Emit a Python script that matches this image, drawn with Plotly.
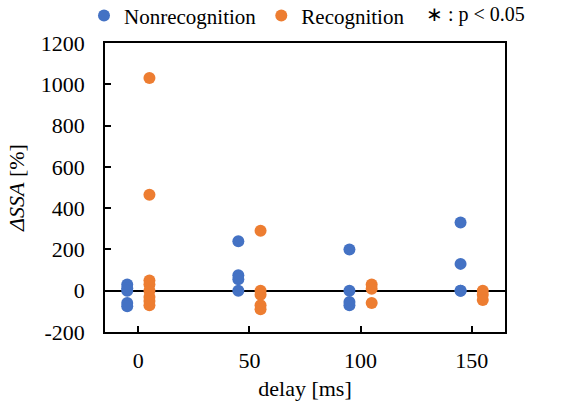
import plotly.graph_objects as go

delays = [0, 50, 100, 150]
offset = 5

y_tick_vals = [-200, 0, 200, 400, 600, 800, 1000, 1200]
y_tick_text = ["-200", "0", "200", "400", "600", "800", "1000", "1200"]

nonrec_vals = {
    0: [30, 12, 0, -60, -75],
    50: [240, 75, 55, 0],
    100: [200, 0, -55, -70],
    150: [330, 130, 0, 0],
}
rec_vals = {
    0: [1030, 465, 50, 30, 0, -30, -50, -70],
    50: [290, 0, -20, -70, -90],
    100: [30, 10, -60],
    150: [0, -20, -45],
}

blue = "#4472C4"
orange = "#ED7D31"
font_family = "Times New Roman, Liberation Serif, serif"
axis_font = dict(family=font_family, size=22, color="black")

def flatten(d, shift):
    xs, ys = [], []
    for k in delays:
        for v in d[k]:
            xs.append(k + shift)
            ys.append(v)
    return xs, ys

nx, ny = flatten(nonrec_vals, -offset)
rx, ry = flatten(rec_vals, offset)

fig = go.Figure()
fig.add_trace(go.Scatter(x=nx, y=ny, mode="markers", name="Nonrecognition",
                         marker=dict(color=blue, size=12)))
fig.add_trace(go.Scatter(x=rx, y=ry, mode="markers", name="Recognition",
                         marker=dict(color=orange, size=12)))

fig.add_annotation(text="∗ : p < 0.05", xref="paper", yref="paper",
                   x=0.797, y=1.1, xanchor="left", yanchor="middle",
                   showarrow=False, font=dict(size=20, color="black", family=font_family))

fig.update_layout(
    template="none",
    width=569, height=407,
    margin=dict(l=105, r=64, t=43, b=75, autoexpand=False),
    paper_bgcolor="white", plot_bgcolor="white",
    font=dict(family=font_family, size=22, color="black"),
    showlegend=True,
    legend=dict(orientation="h", x=-0.0525, y=1.165, xanchor="left", yanchor="top",
                font=dict(size=21, family=font_family), itemwidth=30,
                bgcolor="rgba(0,0,0,0)"),
    xaxis=dict(range=[-15, 165], tickvals=delays, ticks="inside", ticklen=6,
               tickwidth=1.5, tickcolor="black", tickfont=axis_font,
               showline=True, linecolor="black", linewidth=1.5, mirror=True,
               showgrid=False, zeroline=False,
               title=dict(text="delay [ms]", standoff=8, font=axis_font),
               ticklabelstandoff=8),
    yaxis=dict(range=[-200, 1200], tickvals=y_tick_vals, ticktext=y_tick_text,
               ticks="inside", ticklen=6, tickfont=axis_font,
               tickwidth=1.5, tickcolor="black",
               showline=True, linecolor="black", linewidth=1.5, mirror=True,
               showgrid=False, zeroline=True, zerolinecolor="black", zerolinewidth=1.5,
               title=dict(text="<i>ΔSSA</i> [%]", standoff=10, font=axis_font),
               ticklabelstandoff=14),
)

fig.write_html("out.html")
